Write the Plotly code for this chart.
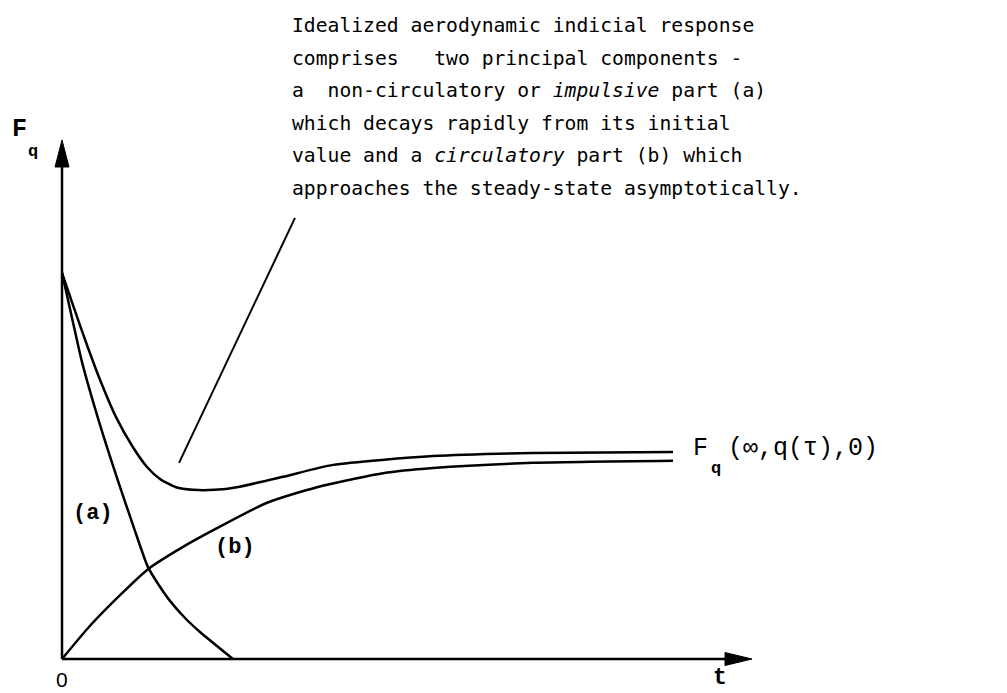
import plotly.graph_objects as go

# Idealized indicial response F_q(t): impulsive part (a), circulatory part (b), and their total
t_a = [0.0, 0.072, 0.159, 0.290, 0.551, 0.797, 1.029, 1.246, 1.391, 1.565, 1.783, 2.000, 2.478]
f_a = [0.744, 0.701, 0.649, 0.572, 0.451, 0.349, 0.258, 0.177, 0.145, 0.112, 0.079, 0.052, 0.0]

t_b = [0.0, 0.406, 0.841, 1.246, 1.754, 2.246, 2.971, 3.696, 4.652, 5.377, 6.826, 8.855]
f_b = [0.0, 0.064, 0.123, 0.173, 0.216, 0.252, 0.301, 0.331, 0.358, 0.368, 0.378, 0.382]

t_total = [0.0, 0.174, 0.362, 0.551, 0.783, 1.029, 1.232, 1.420, 1.652, 1.899, 2.217,
           2.536, 3.203, 3.928, 5.377, 6.826, 8.855]
f_total = [0.744, 0.676, 0.605, 0.538, 0.466, 0.408, 0.370, 0.347, 0.331, 0.326, 0.326,
           0.331, 0.351, 0.374, 0.391, 0.397, 0.399]

# pointer from the description to the dip of the total response
t_pointer = [1.696, 3.377]
f_pointer = [0.378, 0.850]

description = [
    "Idealized aerodynamic indicial response",
    "comprises   two principal components -",
    "a  non-circulatory or <i>impulsive</i> part (a)",
    "which decays rapidly from its initial",
    "value and a <i>circulatory</i> part (b) which",
    "approaches the steady-state asymptotically.",
]

T_MAX = 10.0   # end of the time axis
F_MAX = 1.0    # end of the F_q axis

# canvas geometry (pixels) -> axis ranges
W, H = 1007, 693
X0_PX, Y0_PX = 62, 659        # origin
PX_T, PX_F = 69.0, 519.0      # pixels per unit


def tx(px):
    return (px - X0_PX) / PX_T


def fy(py):
    return (Y0_PX - py) / PX_F


fig = go.Figure()

line_style = dict(color="black", width=2.5, shape="spline", smoothing=0.6)
for tt, ff in [(t_a, f_a), (t_b, f_b), (t_total, f_total)]:
    fig.add_trace(go.Scatter(x=tt, y=ff, mode="lines", line=line_style, hoverinfo="skip"))

fig.add_trace(go.Scatter(x=t_pointer, y=f_pointer, mode="lines",
                         line=dict(color="black", width=2), hoverinfo="skip"))

# axes with filled arrowheads
head_len_t, head_half_t = 27 / PX_T, 6.5 / PX_F
head_len_f, head_half_f = 27 / PX_F, 7 / PX_T
shapes = [
    dict(type="line", xref="x", yref="y", x0=0, y0=0, x1=T_MAX - head_len_t / 2, y1=0,
         line=dict(color="black", width=2.5)),
    dict(type="line", xref="x", yref="y", x0=0, y0=0, x1=0, y1=F_MAX - head_len_f / 2,
         line=dict(color="black", width=2.5)),
    dict(type="path", xref="x", yref="y",
         path=f"M {T_MAX},0 L {T_MAX - head_len_t},{head_half_t} L {T_MAX - head_len_t},{-head_half_t} Z",
         fillcolor="black", line=dict(color="black", width=1)),
    dict(type="path", xref="x", yref="y",
         path=f"M 0,{F_MAX} L {head_half_f},{F_MAX - head_len_f} L {-head_half_f},{F_MAX - head_len_f} Z",
         fillcolor="black", line=dict(color="black", width=1)),
]

label_font = dict(family="Liberation Mono", size=25, color="black", weight="bold")
small_font = dict(family="Liberation Mono", size=17, color="black", weight="bold")
text_font = dict(family="DejaVu Sans Mono", size=19.7, color="black")
curve_font = dict(family="Liberation Mono", size=22, color="black", weight="bold")

annotations = []


def note(text, px, py, font, xanchor="center"):
    annotations.append(dict(text=text, x=tx(px), y=fy(py), xref="x", yref="y",
                            showarrow=False, font=font, xanchor=xanchor, yanchor="middle"))


# description block
line_y = [25, 58, 90, 123, 155, 188]
for txt, py in zip(description, line_y):
    note(txt, 290, py, text_font, xanchor="left")

# axis labels
note("F", 19.5, 129, label_font)
note("q", 33, 151, small_font)
note("0", 62, 679, dict(family="Liberation Sans", size=21, color="black"))
note("t", 720, 678, dict(family="Liberation Mono", size=23, color="black", weight="bold"))

# curve labels
note("(a)", 93, 513, curve_font)
note("(b)", 235, 547, curve_font)

# steady-state label
steady_font = dict(family="Liberation Mono", size=25, color="black")
note("F", 700.5, 448, steady_font)
note("q", 716, 468, small_font)
note("(∞,q(τ),0)", 726, 448, steady_font, xanchor="left")

fig.update_layout(
    width=W, height=H,
    margin=dict(l=0, r=0, t=0, b=0),
    paper_bgcolor="white", plot_bgcolor="white",
    showlegend=False,
    xaxis=dict(range=[tx(0), tx(W)], visible=False, fixedrange=True),
    yaxis=dict(range=[fy(H), fy(0)], visible=False, fixedrange=True),
    shapes=shapes,
    annotations=annotations,
)

fig.write_html("out.html")
